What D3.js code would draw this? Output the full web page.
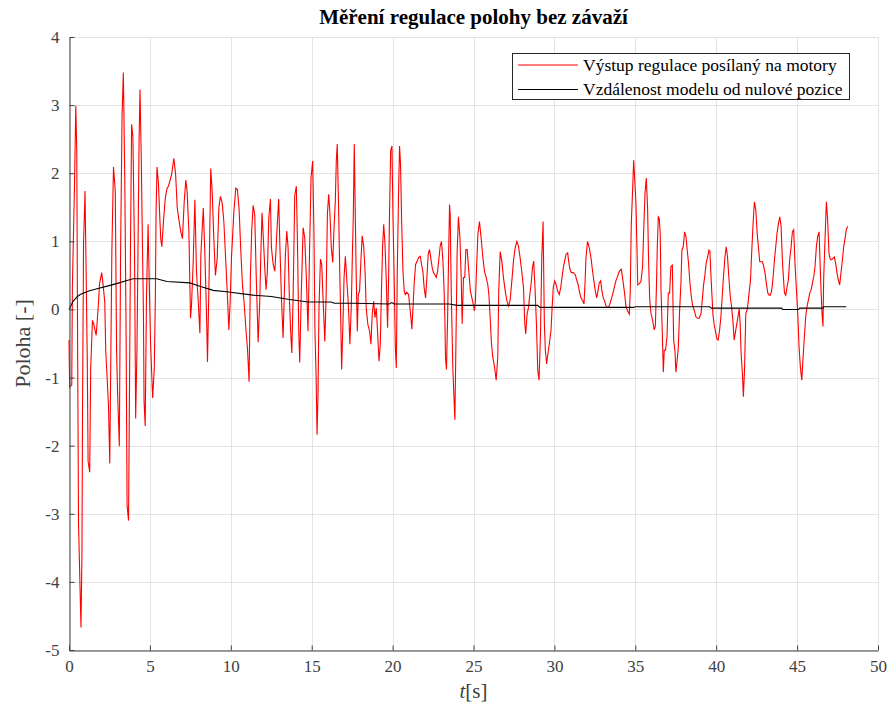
<!DOCTYPE html>
<html>
<head>
<meta charset="utf-8">
<script src="https://cdn.jsdelivr.net/npm/d3@7"></script>
<style>
  body { margin: 0; background: #fff; }
  svg { display: block; font-family: "Liberation Serif", "Times New Roman", serif; }
</style>
</head>
<body>
<svg id="chart" width="889" height="711"></svg>
<script>
// Controller output sent to the motors: [time s, value]
const controlOutput = [
  [0.00,-0.45],[0.04,-1.14],[0.17,-1.11],[0.21,0.35],[0.34,1.82],[0.42,2.99],[0.48,2.34],[0.53,-0.41],
  [0.59,-3.15],[0.74,-4.67],[0.80,-3.61],[0.84,-1.30],[0.90,0.98],[0.99,1.74],[1.05,0.71],[1.13,-0.76],
  [1.18,-2.23],[1.28,-2.39],[1.34,-0.87],[1.45,-0.16],[1.53,-0.22],[1.68,-0.38],[1.81,0.05],[1.89,0.38],
  [2.02,0.54],[2.10,0.38],[2.21,0.11],[2.27,-0.60],[2.44,-1.41],[2.52,-2.26],[2.65,0.87],[2.75,2.09],
  [2.86,1.74],[2.94,-0.60],[3.00,-1.20],[3.11,-2.01],[3.19,0.87],[3.28,2.85],[3.36,3.48],[3.45,1.85],
  [3.53,-0.38],[3.59,-2.88],[3.68,-3.10],[3.74,-1.14],[3.80,0.92],[3.87,2.72],[3.95,2.53],[4.05,0.82],
  [4.12,-1.60],[4.20,-0.60],[4.26,0.76],[4.33,2.47],[4.39,3.23],[4.47,2.17],[4.54,0.92],[4.60,-0.05],
  [4.64,-1.36],[4.71,-1.71],[4.79,0.22],[4.89,1.25],[4.96,0.38],[5.04,-0.49],[5.17,-1.30],[5.27,-0.87],
  [5.34,0.22],[5.38,1.41],[5.44,2.09],[5.53,1.85],[5.59,1.47],[5.67,1.03],[5.74,0.92],[5.84,1.30],
  [5.95,1.63],[6.05,1.77],[6.16,1.82],[6.34,1.98],[6.48,2.22],[6.59,1.98],[6.69,1.49],[6.81,1.29],
  [6.91,1.14],[7.01,1.04],[7.12,1.58],[7.22,1.90],[7.30,1.73],[7.41,1.14],[7.51,-0.13],[7.57,0.06],
  [7.67,0.65],[7.78,1.61],[7.88,0.55],[7.99,0.11],[8.09,-0.35],[8.15,0.80],[8.30,1.49],[8.40,0.80],
  [8.50,-0.08],[8.56,-0.77],[8.66,0.50],[8.76,2.07],[8.85,1.73],[8.95,1.04],[9.05,0.50],[9.16,0.75],
  [9.26,1.49],[9.36,1.66],[9.47,1.56],[9.57,1.29],[9.67,0.80],[9.77,0.31],[9.88,-0.30],[9.96,0.11],
  [10.04,0.75],[10.19,1.44],[10.31,1.78],[10.41,1.76],[10.51,1.49],[10.62,0.85],[10.72,0.36],[10.82,0.11],
  [10.93,-0.28],[11.03,-0.57],[11.13,-1.06],[11.21,0.46],[11.29,1.14],[11.38,1.53],[11.48,1.39],[11.58,0.41],
  [11.69,-0.48],[11.79,0.12],[11.85,0.76],[11.93,1.42],[12.02,1.00],[12.10,0.61],[12.18,0.29],[12.26,0.56],
  [12.35,1.35],[12.45,1.62],[12.51,0.91],[12.62,0.66],[12.72,0.56],[12.78,0.81],[12.86,1.20],[12.96,1.62],
  [13.03,0.96],[13.13,0.17],[13.23,-0.42],[13.29,0.07],[13.37,0.78],[13.46,1.15],[13.54,0.91],[13.62,0.17],
  [13.70,-0.32],[13.77,-0.64],[13.85,0.17],[13.91,1.05],[13.95,1.67],[14.05,1.81],[14.12,1.00],[14.20,-0.32],
  [14.26,-0.78],[14.36,0.27],[14.47,1.20],[14.57,1.05],[14.67,0.47],[14.77,-0.32],[14.88,1.00],[14.96,1.94],
  [15.06,2.18],[15.14,1.10],[15.20,-0.32],[15.27,-0.96],[15.33,-1.84],[15.39,-1.25],[15.45,0.02],[15.54,0.74],
  [15.62,0.66],[15.70,0.17],[15.81,-0.47],[15.89,0.17],[15.97,1.40],[16.05,1.69],[16.13,1.40],[16.21,0.91],
  [16.30,0.69],[16.38,1.20],[16.46,1.59],[16.52,2.18],[16.58,2.43],[16.65,1.64],[16.73,0.61],[16.79,-0.10],
  [16.85,-0.88],[16.93,-0.22],[17.00,0.47],[17.08,0.78],[17.16,0.47],[17.24,0.17],[17.30,-0.12],[17.36,-0.51],
  [17.45,0.07],[17.51,0.76],[17.57,1.35],[17.63,2.43],[17.69,1.45],[17.75,0.51],[17.82,-0.32],[17.88,0.22],
  [17.96,0.27],[18.03,0.66],[18.12,1.08],[18.21,0.93],[18.29,0.61],[18.37,0.02],[18.47,-0.22],[18.58,-0.32],
  [18.66,-0.51],[18.74,-0.07],[18.83,0.12],[18.91,-0.12],[18.99,0.02],[19.07,-0.32],[19.16,-0.76],[19.24,-0.51],
  [19.30,0.17],[19.38,0.91],[19.45,1.25],[19.53,0.96],[19.61,0.42],[19.69,-0.27],[19.75,0.42],[19.81,1.40],
  [19.88,2.33],[19.96,2.40],[20.02,1.40],[20.10,0.42],[20.17,-0.56],[20.23,-0.86],[20.29,0.56],[20.37,1.74],
  [20.43,2.40],[20.49,2.13],[20.56,1.30],[20.64,0.56],[20.72,0.27],[20.78,0.22],[20.88,0.25],[20.99,0.22],
  [21.05,0.07],[21.13,-0.12],[21.19,-0.29],[21.27,0.07],[21.33,0.37],[21.42,0.66],[21.52,0.71],[21.60,0.76],
  [21.71,0.78],[21.79,0.66],[21.87,0.56],[21.95,0.32],[22.04,0.17],[22.12,0.47],[22.20,0.81],[22.28,0.88],
  [22.37,0.74],[22.45,0.61],[22.53,0.54],[22.61,0.51],[22.70,0.47],[22.78,0.56],[22.86,0.74],[22.94,0.93],
  [23.02,1.00],[23.11,0.71],[23.17,0.37],[23.23,-0.12],[23.27,-0.71],[23.33,-0.88],[23.40,-0.12],[23.46,0.76],
  [23.52,1.54],[23.56,1.39],[23.62,0.32],[23.72,-0.84],[23.79,-1.28],[23.85,-1.62],[23.93,-0.21],[23.99,0.85],
  [24.07,1.36],[24.16,1.05],[24.24,0.47],[24.30,-0.21],[24.38,0.47],[24.46,0.47],[24.53,0.88],[24.61,0.88],
  [24.67,0.68],[24.75,0.44],[24.81,0.27],[24.90,0.17],[24.98,0.08],[25.06,-0.02],[25.12,0.13],[25.19,0.61],
  [25.27,1.10],[25.37,1.29],[25.47,1.05],[25.58,0.76],[25.68,0.56],[25.78,0.47],[25.88,0.37],[25.95,0.22],
  [26.03,-0.12],[26.11,-0.50],[26.19,-0.70],[26.30,-0.84],[26.40,-1.04],[26.50,-0.70],[26.56,0.27],[26.65,0.85],
  [26.75,0.71],[26.85,0.47],[26.96,0.27],[27.06,0.13],[27.16,0.05],[27.26,0.13],[27.37,0.42],[27.47,0.71],
  [27.57,0.90],[27.68,1.00],[27.78,0.93],[27.88,0.76],[27.98,0.56],[28.09,0.32],[28.17,-0.21],[28.23,-0.36],
  [28.31,-0.07],[28.40,0.03],[28.48,0.22],[28.56,0.37],[28.64,0.61],[28.72,0.71],[28.81,0.27],[28.89,-0.21],
  [28.97,-0.89],[29.05,-1.04],[29.14,-0.36],[29.22,0.76],[29.30,1.29],[29.38,-0.21],[29.44,-0.60],[29.52,-0.80],
  [29.60,-0.65],[29.69,-0.50],[29.79,-0.31],[29.85,-0.02],[29.93,0.32],[30.02,0.42],[30.10,0.37],[30.20,0.27],
  [30.30,0.22],[30.39,0.32],[30.47,0.47],[30.55,0.61],[30.63,0.71],[30.72,0.81],[30.82,0.83],[30.88,0.71],
  [30.96,0.59],[31.05,0.54],[31.17,0.54],[31.29,0.51],[31.37,0.44],[31.46,0.37],[31.54,0.27],[31.64,0.17],
  [31.74,0.13],[31.83,0.08],[31.89,0.37],[31.95,0.76],[32.05,1.00],[32.16,0.90],[32.26,0.76],[32.36,0.56],
  [32.44,0.42],[32.53,0.27],[32.61,0.17],[32.69,0.27],[32.77,0.39],[32.86,0.42],[32.94,0.27],[33.02,0.17],
  [33.10,0.13],[33.19,0.05],[33.29,0.03],[33.39,0.05],[33.49,0.13],[33.60,0.22],[33.70,0.32],[33.80,0.42],
  [33.91,0.49],[34.01,0.56],[34.13,0.59],[34.21,0.47],[34.32,0.27],[34.42,0.05],[34.52,-0.02],[34.63,-0.07],
  [34.69,0.27],[34.75,1.24],[34.83,1.73],[34.90,2.19],[35.04,1.56],[35.10,0.92],[35.15,0.36],[35.25,0.38],
  [35.35,0.41],[35.45,0.63],[35.52,1.17],[35.60,1.71],[35.68,1.93],[35.76,1.49],[35.82,0.73],[35.89,0.14],
  [35.97,-0.06],[36.07,-0.16],[36.17,-0.30],[36.24,-0.25],[36.30,0.28],[36.36,0.92],[36.42,1.36],[36.48,1.34],
  [36.54,1.12],[36.59,0.28],[36.67,-0.35],[36.73,-0.92],[36.79,-0.60],[36.87,-0.60],[36.96,-0.40],[37.04,0.24],
  [37.12,0.24],[37.20,0.63],[37.29,0.65],[37.37,-0.45],[37.45,-0.60],[37.51,-0.92],[37.57,-0.79],[37.66,-0.55],
  [37.74,-0.01],[37.82,0.38],[37.88,0.87],[37.96,0.92],[38.05,1.14],[38.13,1.07],[38.21,0.87],[38.29,0.68],
  [38.38,0.38],[38.46,0.19],[38.54,0.06],[38.64,-0.01],[38.75,-0.11],[38.85,-0.13],[38.95,-0.13],[39.06,-0.06],
  [39.14,0.14],[39.22,0.36],[39.30,0.50],[39.38,0.68],[39.47,0.77],[39.55,0.87],[39.61,0.85],[39.67,0.53],
  [39.73,0.24],[39.80,-0.08],[39.88,-0.23],[39.96,-0.33],[40.04,-0.43],[40.12,-0.45],[40.21,-0.30],[40.29,-0.11],
  [40.37,0.19],[40.45,0.48],[40.54,0.77],[40.62,0.92],[40.70,0.77],[40.78,0.48],[40.87,0.19],[40.95,0.04],
  [41.03,-0.16],[41.11,-0.45],[41.21,-0.30],[41.31,-0.16],[41.42,0.01],[41.48,-0.21],[41.54,-0.65],[41.62,-0.94],
  [41.68,-1.28],[41.75,-0.89],[41.83,-0.06],[41.93,0.01],[42.03,0.24],[42.12,0.43],[42.20,0.87],[42.28,1.26],
  [42.36,1.58],[42.45,1.46],[42.53,1.12],[42.61,0.92],[42.69,0.70],[42.78,0.70],[42.86,0.70],[42.94,0.63],
  [43.02,0.53],[43.10,0.38],[43.19,0.24],[43.27,0.21],[43.35,0.21],[43.43,0.28],[43.52,0.48],[43.60,0.73],
  [43.68,0.92],[43.76,1.12],[43.85,1.26],[43.93,1.36],[44.01,1.22],[44.09,0.73],[44.15,0.48],[44.22,0.24],
  [44.30,0.21],[44.38,0.33],[44.46,0.43],[44.54,0.73],[44.63,0.92],[44.71,1.14],[44.79,1.17],[44.87,0.68],
  [44.96,0.28],[45.04,-0.06],[45.12,-0.55],[45.20,-0.84],[45.29,-1.04],[45.37,-0.70],[45.45,-0.40],[45.53,-0.11],
  [45.61,0.04],[45.70,0.14],[45.78,0.24],[45.86,0.28],[45.94,0.38],[46.03,0.48],[46.11,0.63],[46.19,0.92],
  [46.27,1.07],[46.36,1.14],[46.42,0.68],[46.48,0.28],[46.54,-0.06],[46.60,-0.25],[46.64,0.43],[46.73,1.07],
  [46.81,1.58],[46.89,1.31],[46.97,0.82],[47.06,0.73],[47.14,0.73],[47.22,0.75],[47.30,0.77],[47.38,0.68],
  [47.47,0.53],[47.55,0.43],[47.63,0.36],[47.71,0.53],[47.80,0.73],[47.88,0.92],[47.96,1.04],[48.04,1.17],
  [48.13,1.22]
];

// Distance of the model from the zero position: [time s, value]
const modelDistance = [
  [0.00,0.00],[0.25,0.12],[0.48,0.18],[0.69,0.22],[1.22,0.27],[1.85,0.31],[2.48,0.35],[3.10,0.39],
  [3.53,0.42],[3.95,0.45],[5.42,0.45],[6.05,0.41],[7.47,0.39],[8.09,0.34],[8.91,0.28],[9.73,0.26],
  [11.38,0.21],[12.51,0.19],[13.54,0.15],[14.77,0.11],[16.21,0.11],[16.40,0.09],[17.65,0.09],[19.80,0.08],
  [19.95,0.10],[20.10,0.08],[23.50,0.08],[24.00,0.06],[28.97,0.06],[29.10,0.03],[34.90,0.03],[35.00,0.04],
  [39.60,0.04],[39.70,0.02],[44.05,0.02],[44.10,0.00],[45.10,0.00],[45.15,0.02],[46.60,0.02],[46.65,0.04],
  [48.04,0.04]
];

const xTicks = [0, 5, 10, 15, 20, 25, 30, 35, 40, 45, 50];
const yTicks = [-5, -4, -3, -2, -1, 0, 1, 2, 3, 4];

const titleText = "Měření regulace polohy bez závaží";
const yLabelText = "Poloha [-]";
const legendLabels = ["Výstup regulace posílaný na motory", "Vzdálenost modelu od nulové pozice"];
const seriesColors = ["#ff0000", "#000000"];

const svg = d3.select("#chart");
const plot = { left: 69, right: 878, top: 37, bottom: 650 };

const x = d3.scaleLinear().domain([0, 50]).range([plot.left, plot.right]);
const y = d3.scaleLinear().domain([-5, 4]).range([plot.bottom, plot.top]);

// grid
const grid = svg.append("g").attr("stroke", "#e3e3e3").attr("stroke-width", 1);
grid.selectAll("line.v").data(xTicks).join("line")
  .attr("x1", d => Math.round(x(d)) + 0.5).attr("x2", d => Math.round(x(d)) + 0.5)
  .attr("y1", plot.top).attr("y2", plot.bottom);
grid.selectAll("line.h").data(yTicks).join("line")
  .attr("y1", d => Math.round(y(d)) + 0.5).attr("y2", d => Math.round(y(d)) + 0.5)
  .attr("x1", plot.left).attr("x2", plot.right);

// data lines
const line = d3.line().x(d => x(d[0])).y(d => y(d[1]));
svg.append("path").datum(controlOutput)
  .attr("fill", "none").attr("stroke", seriesColors[0]).attr("stroke-width", 1.1)
  .attr("stroke-linejoin", "miter").attr("d", line);
svg.append("path").datum(modelDistance)
  .attr("fill", "none").attr("stroke", seriesColors[1]).attr("stroke-width", 1.1)
  .attr("d", line);

// axes with inward ticks; labels use a plain hyphen for negatives
const axisColor = "#404040";
const fmt = d => String(d);
const xAxis = svg.append("g").attr("transform", `translate(0,${plot.bottom + 0.5})`)
  .call(d3.axisBottom(x).tickValues(xTicks).tickFormat(fmt).tickSize(-5).tickPadding(9).tickSizeOuter(0));
const yAxis = svg.append("g").attr("transform", `translate(${plot.left + 0.5},0)`)
  .call(d3.axisLeft(y).tickValues(yTicks).tickFormat(fmt).tickSize(-5).tickPadding(10).tickSizeOuter(0));
[xAxis, yAxis].forEach(a => {
  a.select(".domain").attr("stroke", axisColor);
  a.selectAll(".tick line").attr("stroke", axisColor);
  a.selectAll(".tick text").attr("fill", "#404040")
    .style("font-family", "'Liberation Serif', serif").style("font-size", "17px");
});

// title
svg.append("text").attr("x", (plot.left + plot.right) / 2).attr("y", 24)
  .attr("text-anchor", "middle").attr("font-weight", "bold").attr("font-size", "21px")
  .attr("fill", "#000").text(titleText);

// axis labels
const xl = svg.append("text").attr("x", (plot.left + plot.right) / 2).attr("y", 698)
  .attr("text-anchor", "middle").attr("font-size", "21px").attr("fill", "#404040");
xl.append("tspan").attr("font-style", "italic").text("t");
xl.append("tspan").text("[s]");

svg.append("text")
  .attr("transform", `translate(30,${(plot.top + plot.bottom) / 2}) rotate(-90)`)
  .attr("text-anchor", "middle").attr("font-size", "22px").attr("fill", "#404040")
  .text(yLabelText);

// legend
const lg = svg.append("g");
lg.append("rect").attr("x", 512.5).attr("y", 53.5).attr("width", 337).attr("height", 46)
  .attr("fill", "#fff").attr("stroke", "#262626").attr("stroke-width", 1);
legendLabels.forEach((lab, i) => {
  const yy = 65 + i * 24.5;
  lg.append("line").attr("x1", 518).attr("x2", 578).attr("y1", yy).attr("y2", yy)
    .attr("stroke", seriesColors[i]).attr("stroke-width", 1.1);
  lg.append("text").attr("x", 583).attr("y", yy + 5.5).attr("font-size", "17.5px")
    .attr("fill", "#000").text(lab);
});
</script>
</body>
</html>
